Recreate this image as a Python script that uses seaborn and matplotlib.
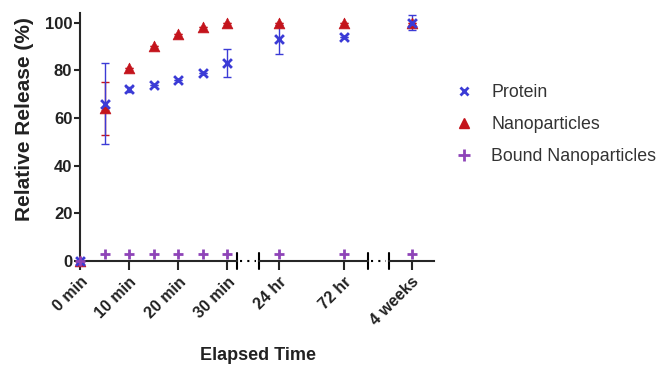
import matplotlib
matplotlib.use("Agg")
import matplotlib.pyplot as plt
from matplotlib.lines import Line2D
import seaborn as sns
import pandas as pd

sns.set_style("ticks")
plt.rcParams["font.family"] = ["Liberation Sans", "DejaVu Sans"]

#  Data 
# three pieces of a broken time axis: minutes, hours, weeks
t_min = [0, 5, 10, 15, 20, 25, 30]
t_hr = [24, 72]
t_wk = [4]

protein = [0, 66, 72, 74, 76, 79, 83, 93, 94, 100]
protein_err = [0, 17, 1, 0, 0, 0, 6, 6, 0, 3]
nano = [0, 64, 81, 90, 95, 98, 100, 100, 100, 100]
nano_err = [0, 11, 0, 0, 0, 0, 0, 0, 0, 0]
bound = [0, 3, 3, 3, 3, 3, 3, 3, 3, 3]

tick_sets = [([0, 10, 20, 30], ["0 min", "10 min", "20 min", "30 min"]),
             ([24, 72], ["24 hr", "72 hr"]),
             ([4], ["4 weeks"])]

BLUE = "#3b3bd6"
RED = "#c4141c"
PURPLE = "#8e44b8"
INK = "#222222"

#  Figure 
W, H = 662, 366
fig = plt.figure(figsize=(W / 100, H / 100), dpi=100)

def px(x0, y_top, w, h):
    return [x0 / W, 1 - (y_top + h) / H, w / W, h / H]

# pixel layout of the three segments (left, width) and x-limits
segs = [(80, 157, (0, 32)), (259, 109, (9.2, 89.7)), (389, 45, (3.0, 5.0))]
times = [t_min, t_hr, t_wk]
y_top, y_bot = 13, 261

offset = 0
for i, ((x0, w, xlim), t) in enumerate(zip(segs, times)):
    ax = fig.add_axes(px(x0, y_top, w, y_bot - y_top))
    n = len(t)
    sl = slice(offset, offset + n)
    offset += n
    df = pd.DataFrame({"t": t, "protein": protein[sl], "perr": protein_err[sl],
                       "nano": nano[sl], "nerr": nano_err[sl], "bound": bound[sl]})

    ax.errorbar(df["t"], df["nano"], yerr=df["nerr"], fmt="none",
                ecolor=RED, elinewidth=1, capsize=3, capthick=1, clip_on=False)
    ax.errorbar(df["t"], df["protein"], yerr=df["perr"], fmt="none",
                ecolor=BLUE, elinewidth=1, capsize=3, capthick=1, clip_on=False)
    sns.scatterplot(data=df, x="t", y="nano", marker="^", color=RED, s=60,
                    edgecolor=RED, linewidth=0.5, ax=ax, clip_on=False, zorder=3)
    sns.scatterplot(data=df, x="t", y="protein", marker="x", color=BLUE, s=40,
                    linewidth=2, ax=ax, clip_on=False, zorder=4)
    sns.scatterplot(data=df, x="t", y="bound", marker="+", color=PURPLE, s=60,
                    linewidth=2, ax=ax, clip_on=False, zorder=5)

    ax.set_xlim(*xlim)
    ax.set_ylim(0, 104)
    ticks, labels = tick_sets[i]
    ax.set_xticks(ticks)
    ax.set_xticklabels(labels, rotation=45, ha="right", rotation_mode="anchor",
                       fontsize=11.5, fontweight="bold", color=INK)
    ax.tick_params(axis="x", direction="out", length=6.5, width=1.5, pad=3)
    ax.set_xlabel("")
    ax.set_ylabel("")
    for s in ["top", "right"]:
        ax.spines[s].set_visible(False)
    ax.spines["bottom"].set_linewidth(1.5)
    ax.patch.set_alpha(0)

    # vertical break marks at segment ends
    ends = [1] if i == 0 else ([0, 1] if i == 1 else [0])
    for e in ends:
        ax.plot([e, e], [-0.032, 0.032], transform=ax.transAxes, color="black",
                lw=1.5, clip_on=False)

    if i == 0:
        ax.set_yticks([0, 20, 40, 60, 80, 100])
        ax.set_yticklabels(["0", "20", "40", "60", "80", "100"],
                           fontsize=12, fontweight="bold", color=INK)
        ax.tick_params(axis="y", direction="out", length=4, width=1.5, pad=1.5)
        ax.spines["left"].set_linewidth(1.5)
        ax.set_ylabel("Relative Release (%)", fontsize=15, fontweight="bold",
                      color=INK)
        ax.yaxis.set_label_coords(-0.29, 0.573)
    else:
        ax.spines["left"].set_visible(False)
        ax.set_yticks([])

# dotted gaps between segments
yb = 1 - y_bot / H
for xa, xb in [(237, 259), (368, 389)]:
    fig.add_artist(Line2D([xa / W + 0.004, xb / W - 0.004], [yb, yb],
                          transform=fig.transFigure, color="black", lw=1.5,
                          linestyle=(0, (1, 2.5))))

fig.text(258 / W, 1 - 355 / H, "Elapsed Time", ha="center", va="center",
         fontsize=13, fontweight="bold", color=INK)

handles = [Line2D([], [], marker="x", color=BLUE, ls="none", ms=6, mew=2),
           Line2D([], [], marker="^", color=RED, ls="none", ms=7),
           Line2D([], [], marker="+", color=PURPLE, ls="none", ms=8, mew=2)]
fig.legend(handles, ["Protein", "Nanoparticles", "Bound Nanoparticles"],
           loc="upper left", bbox_to_anchor=(430 / W, 1 - 68 / H), frameon=False,
           fontsize=12.8, labelspacing=0.85, handletextpad=0.55,
           labelcolor="#333333")

fig.savefig("out.png", dpi=100)
